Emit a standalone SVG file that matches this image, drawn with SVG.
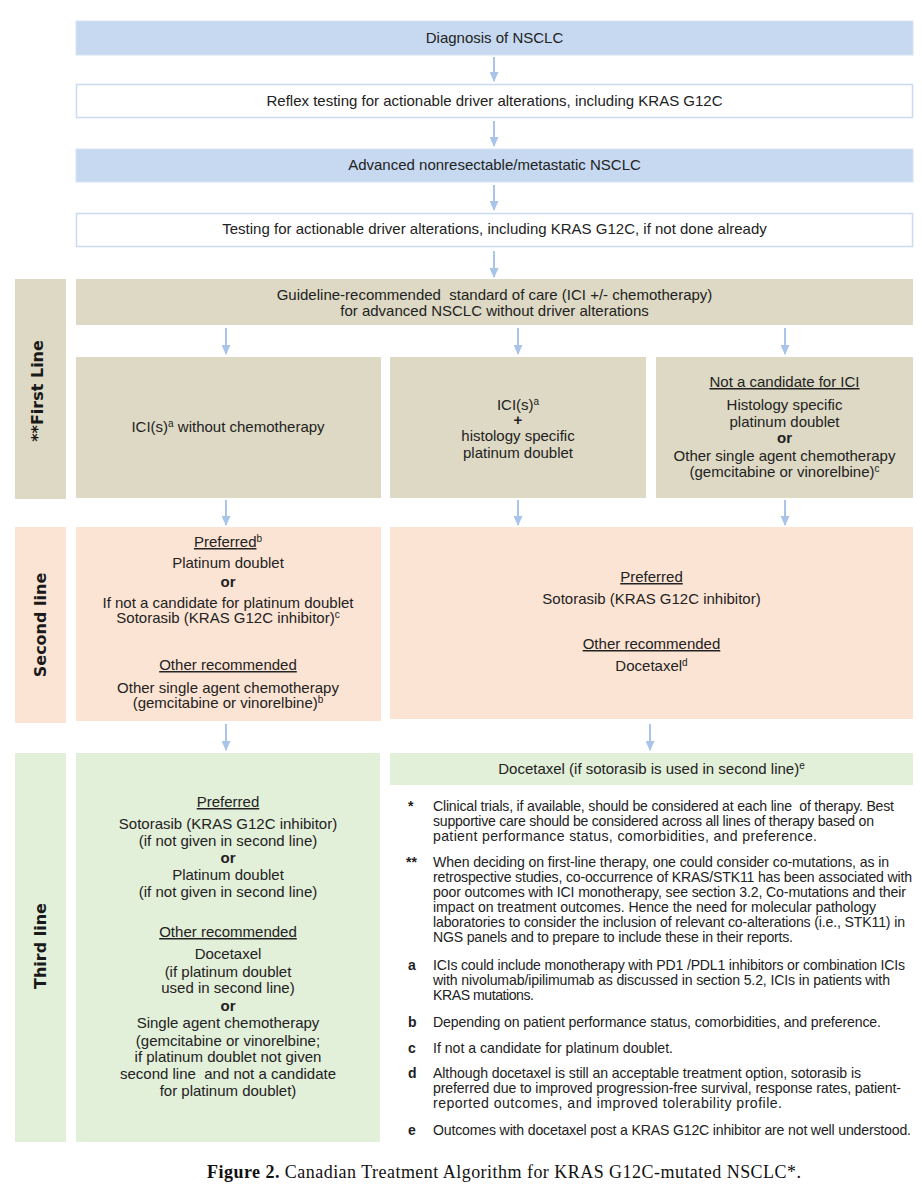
<svg xmlns="http://www.w3.org/2000/svg" width="922" height="1200" viewBox="0 0 922 1200">
<style>
text{font-family:"Liberation Sans",Arial,sans-serif;fill:#222}
.t{font-size:15px;text-anchor:middle}
.fn{font-size:14.1px}
.fm{font-size:14px;font-weight:bold}
.lab{font-family:"DejaVu Sans",Verdana,sans-serif;font-weight:bold;font-size:16px;text-anchor:middle;fill:#1a1a1a}
.u{text-decoration:underline}
.b{font-weight:bold}
.blue{fill:#c6d9f0;stroke:#d6e3f4;stroke-width:1}
.white{fill:#ffffff;stroke:#c9dbf1;stroke-width:1.5}
.tan{fill:#ddd9c4}
.peach{fill:#fce4d4}
.green{fill:#e2efd9}
.arr{stroke:#a9c4e9;stroke-width:2;fill:none;marker-end:url(#ah)}
.cap{font-family:"Liberation Serif","Times New Roman",serif;font-size:18px;fill:#111}
</style>
<defs>
<marker id="ah" markerUnits="userSpaceOnUse" markerWidth="10" markerHeight="9" refX="9" refY="4.5" viewBox="0 0 10 9" orient="auto">
<path d="M0,0 L10,4.5 L0,9 z" fill="#a9c4e9"/>
</marker>
</defs>
<rect width="922" height="1200" fill="#ffffff"/>

<g id="connectors">
<line class="arr" x1="494" y1="57" x2="494" y2="81"/>
<line class="arr" x1="494" y1="121" x2="494" y2="146"/>
<line class="arr" x1="494" y1="185" x2="494" y2="210"/>
<line class="arr" x1="494" y1="251" x2="494" y2="277"/>
<line class="arr" x1="226" y1="328" x2="226" y2="354"/>
<line class="arr" x1="518" y1="328" x2="518" y2="354"/>
<line class="arr" x1="785" y1="328" x2="785" y2="354"/>
<line class="arr" x1="226" y1="500" x2="226" y2="525"/>
<line class="arr" x1="518" y1="500" x2="518" y2="525"/>
<line class="arr" x1="785" y1="500" x2="785" y2="525"/>
<line class="arr" x1="226" y1="724" x2="226" y2="750"/>
<line class="arr" x1="650" y1="724" x2="650" y2="750"/>
</g>

<g id="diagnosis">
<rect class="blue" x="76" y="21" width="837" height="34"/>
<text class="t" x="494.5" y="43">Diagnosis of NSCLC</text>
</g>
<g id="reflex">
<rect class="white" x="76.5" y="84.5" width="836" height="33"/>
<text class="t" x="494.5" y="106">Reflex testing for actionable driver alterations, including KRAS G12C</text>
</g>
<g id="advanced">
<rect class="blue" x="76" y="149" width="837" height="33"/>
<text class="t" x="494.5" y="170">Advanced nonresectable/metastatic NSCLC</text>
</g>
<g id="testing">
<rect class="white" x="76.5" y="213.5" width="836" height="33"/>
<text class="t" x="494.5" y="234">Testing for actionable driver alterations, including KRAS G12C, if not done already</text>
</g>

<g id="label-first">
<rect class="tan" x="15" y="279" width="51" height="220"/>
<text class="lab" transform="translate(42.5,391) rotate(-90)">**First Line</text>
</g>
<g id="guideline">
<rect class="tan" x="76" y="279" width="837" height="46"/>
<text class="t" x="494.5" y="300" xml:space="preserve">Guideline-recommended  standard of care (ICI +/- chemotherapy)</text>
<text class="t" x="494.5" y="316">for advanced NSCLC without driver alterations</text>
</g>
<g id="first-ici">
<rect class="tan" x="76" y="357" width="305" height="141"/>
<text class="t" x="228" y="432">ICI(s)<tspan dy="-5" font-size="10">a</tspan><tspan dy="5"> without chemotherapy</tspan></text>
</g>
<g id="first-ici-chemo">
<rect class="tan" x="390" y="357" width="256" height="141"/>
<text class="t" x="518" y="410">ICI(s)<tspan dy="-5" font-size="10">a</tspan></text>
<text class="t b" x="518" y="425">+</text>
<text class="t" x="518" y="441">histology specific</text>
<text class="t" x="518" y="458">platinum doublet</text>
</g>
<g id="first-no-ici">
<rect class="tan" x="656" y="357" width="257" height="141"/>
<text class="t u" x="784.5" y="387">Not a candidate for ICI</text>
<text class="t" x="784.5" y="410">Histology specific</text>
<text class="t" x="784.5" y="427">platinum doublet</text>
<text class="t b" x="784.5" y="443">or</text>
<text class="t" x="784.5" y="461">Other single agent chemotherapy</text>
<text class="t" x="784.5" y="477">(gemcitabine or vinorelbine)<tspan dy="-5" font-size="10">c</tspan></text>
</g>

<g id="label-second">
<rect class="peach" x="15" y="527" width="51" height="196"/>
<text class="lab" transform="translate(46,625) rotate(-90)">Second line</text>
</g>
<g id="second-left">
<rect class="peach" x="76" y="527" width="305" height="194"/>
<text class="t" x="228" y="547"><tspan class="u">Preferred</tspan><tspan dy="-5" font-size="10">b</tspan></text>
<text class="t" x="228" y="568">Platinum doublet</text>
<text class="t b" x="228" y="587">or</text>
<text class="t" x="228" y="608">If not a candidate for platinum doublet</text>
<text class="t" x="228" y="623">Sotorasib (KRAS G12C inhibitor)<tspan dy="-5" font-size="10">c</tspan></text>
<text class="t u" x="228" y="670">Other recommended</text>
<text class="t" x="228" y="693">Other single agent chemotherapy</text>
<text class="t" x="228" y="708">(gemcitabine or vinorelbine)<tspan dy="-5" font-size="10">b</tspan></text>
</g>
<g id="second-right">
<rect class="peach" x="390" y="527" width="523" height="192"/>
<text class="t u" x="651.5" y="582">Preferred</text>
<text class="t" x="651.5" y="604">Sotorasib (KRAS G12C inhibitor)</text>
<text class="t u" x="651.5" y="649">Other recommended</text>
<text class="t" x="651.5" y="671">Docetaxel<tspan dy="-5" font-size="10">d</tspan></text>
</g>

<g id="label-third">
<rect class="green" x="15" y="753" width="51" height="389"/>
<text class="lab" transform="translate(46,946) rotate(-90)">Third line</text>
</g>
<g id="third-left">
<rect class="green" x="76" y="753" width="304" height="389"/>
<text class="t u" x="228" y="807">Preferred</text>
<text class="t" x="228" y="829">Sotorasib (KRAS G12C inhibitor)</text>
<text class="t" x="228" y="846">(if not given in second line)</text>
<text class="t b" x="228" y="863">or</text>
<text class="t" x="228" y="880">Platinum doublet</text>
<text class="t" x="228" y="897">(if not given in second line)</text>
<text class="t u" x="228" y="937">Other recommended</text>
<text class="t" x="228" y="959">Docetaxel</text>
<text class="t" x="228" y="977">(if platinum doublet</text>
<text class="t" x="228" y="993">used in second line)</text>
<text class="t b" x="228" y="1011">or</text>
<text class="t" x="228" y="1028">Single agent chemotherapy</text>
<text class="t" x="228" y="1046">(gemcitabine or vinorelbine;</text>
<text class="t" x="228" y="1062">if platinum doublet not given</text>
<text class="t" x="228" y="1079" xml:space="preserve">second line  and not a candidate</text>
<text class="t" x="228" y="1096">for platinum doublet)</text>
</g>
<g id="third-right">
<rect class="green" x="390" y="753" width="523" height="32"/>
<text class="t" x="651.5" y="774">Docetaxel (if sotorasib is used in second line)<tspan dy="-5" font-size="10">e</tspan></text>
</g>

<g id="footnotes">
<text class="fm" x="408" y="810.5">*</text>
<text class="fn" x="433" y="810.5" textLength="461" lengthAdjust="spacing" xml:space="preserve">Clinical trials, if available, should be considered at each line  of therapy. Best</text>
<text class="fn" x="433" y="825.5" textLength="441" lengthAdjust="spacing">supportive care should be considered across all lines of therapy based on</text>
<text class="fn" x="433" y="840.5" textLength="384" lengthAdjust="spacing">patient performance status, comorbidities, and preference.</text>
<text class="fm" x="406" y="866.5">**</text>
<text class="fn" x="433" y="866.5" textLength="456" lengthAdjust="spacing">When deciding on first-line therapy, one could consider co-mutations, as in</text>
<text class="fn" x="433" y="881.5" textLength="479" lengthAdjust="spacing">retrospective studies, co-occurrence of KRAS/STK11 has been associated with</text>
<text class="fn" x="433" y="896.5" textLength="473" lengthAdjust="spacing">poor outcomes with ICI monotherapy, see section 3.2, Co-mutations and their</text>
<text class="fn" x="433" y="911.5" textLength="443" lengthAdjust="spacing">impact on treatment outcomes. Hence the need for molecular pathology</text>
<text class="fn" x="433" y="927" textLength="472" lengthAdjust="spacing">laboratories to consider the inclusion of relevant co-alterations (i.e., STK11) in</text>
<text class="fn" x="433" y="942" textLength="360" lengthAdjust="spacing">NGS panels and to prepare to include these in their reports.</text>
<text class="fm" x="408" y="969.5">a</text>
<text class="fn" x="433" y="969.5" textLength="472" lengthAdjust="spacing">ICIs could include monotherapy with PD1 /PDL1 inhibitors or combination ICIs</text>
<text class="fn" x="433" y="984.5" textLength="457" lengthAdjust="spacing">with nivolumab/ipilimumab as discussed in section 5.2, ICIs in patients with</text>
<text class="fn" x="433" y="999.5" textLength="101" lengthAdjust="spacing">KRAS mutations.</text>
<text class="fm" x="408" y="1026.5">b</text>
<text class="fn" x="433" y="1026.5" textLength="448" lengthAdjust="spacing">Depending on patient performance status, comorbidities, and preference.</text>
<text class="fm" x="408" y="1052.5">c</text>
<text class="fn" x="433" y="1052.5" textLength="240" lengthAdjust="spacing">If not a candidate for platinum doublet.</text>
<text class="fm" x="408" y="1077.5">d</text>
<text class="fn" x="433" y="1077.5" textLength="428" lengthAdjust="spacing">Although docetaxel is still an acceptable treatment option, sotorasib is</text>
<text class="fn" x="433" y="1092.5" textLength="468" lengthAdjust="spacing">preferred due to improved progression-free survival, response rates, patient-</text>
<text class="fn" x="433" y="1107.5" textLength="349" lengthAdjust="spacing">reported outcomes, and improved tolerability profile.</text>
<text class="fm" x="408" y="1134.5">e</text>
<text class="fn" x="433" y="1134.5" textLength="478" lengthAdjust="spacing">Outcomes with docetaxel post a KRAS G12C inhibitor are not well understood.</text>
</g>

<g id="caption">
<text class="cap" x="207" y="1178" textLength="594" lengthAdjust="spacing"><tspan font-weight="bold">Figure 2.</tspan> Canadian Treatment Algorithm for KRAS G12C-mutated NSCLC*.</text>
</g>
</svg>
